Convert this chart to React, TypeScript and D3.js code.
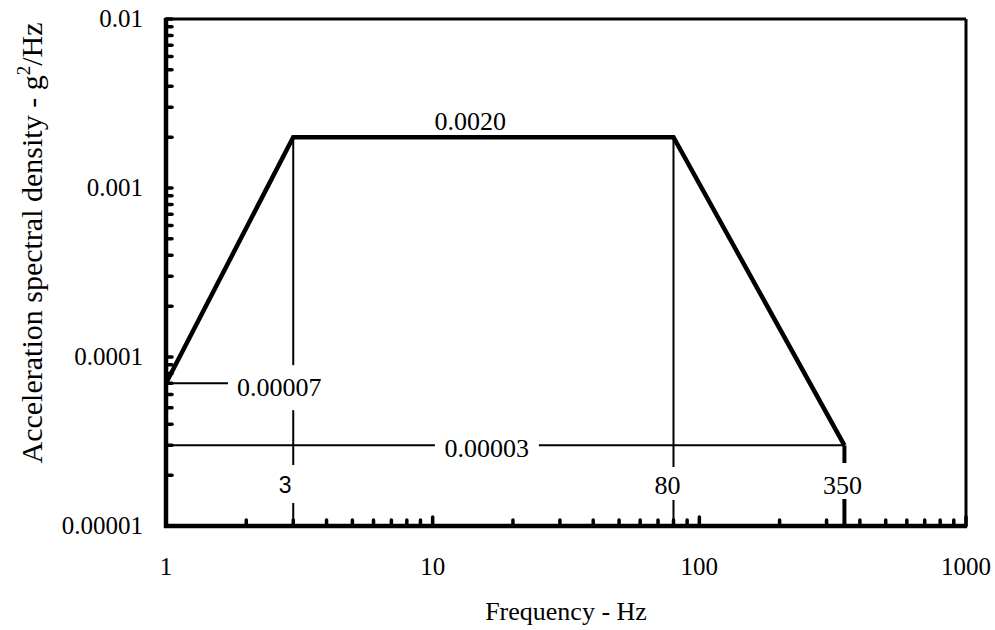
import React from "react";
import * as d3 from "d3";

const profileFreq = [1, 3, 80, 350];
const profileAsd = [0.00007, 0.002, 0.002, 0.00003];
const xTickValues = [1, 10, 100, 1000];
const xTickLabels = ["1", "10", "100", "1000"];
const yTickValues = [0.00001, 0.0001, 0.001, 0.01];
const yTickLabels = ["0.00001", "0.0001", "0.001", "0.01"];
const breakFreqs = [3, 80, 350];
const breakLabels = ["3", "80", "350"];
const levelLabels = ["0.0020", "0.00007", "0.00003"];

const W = 995;
const H = 630;
const M = { left: 166, right: 966, top: 19, bottom: 526 };

export default function App() {
  const x = d3.scaleLog().domain([1, 1000]).range([M.left, M.right]);
  const y = d3.scaleLog().domain([0.00001, 0.01]).range([M.bottom, M.top]);
  const line = d3
    .line<number>()
    .x((_, i) => x(profileFreq[i]))
    .y((d) => y(d));

  const minorX: number[] = [];
  for (let e = 0; e < 3; e++) for (let k = 2; k <= 9; k++) minorX.push(k * Math.pow(10, e));
  const minorY: number[] = [];
  for (let e = -5; e < -2; e++) for (let k = 2; k <= 9; k++) minorY.push(k * Math.pow(10, e));

  const serif = "'Liberation Serif', 'Times New Roman', serif";
  const sans = "'Liberation Sans', Arial, sans-serif";

  const x3 = x(breakFreqs[0]);
  const x80 = x(breakFreqs[1]);
  const x350 = x(breakFreqs[2]);
  const yTop = y(profileAsd[1]);
  const y7 = y(profileAsd[0]);
  const y3 = y(profileAsd[3]);
  const x1 = x(profileFreq[0]);
  const c3 = (x3 + x80) / 2 + 3.5;

  return (
    <svg
      width={W}
      height={H}
      style={{ position: "absolute", left: 0, top: 0, background: "#fff" }}
      fontFamily={serif}
    >
      <rect x={0} y={0} width={W} height={H} fill="#fff" />
      {/* reference lines */}
      <g stroke="#000" fill="none">
        <line x1={x3} x2={x3} y1={yTop} y2={M.bottom} strokeWidth={2} />
        <line x1={x80} x2={x80} y1={yTop} y2={M.bottom} strokeWidth={2} />
        <line x1={x350} x2={x350} y1={y3} y2={M.bottom} strokeWidth={4} />
        <line x1={x1} x2={x350} y1={y3} y2={y3} strokeWidth={2} />
        <line x1={x1} x2={x1 + 70} y1={y7} y2={y7} strokeWidth={2} />
      </g>
      {/* label backgrounds */}
      <g fill="#fff">
        <rect x={x1 + 62} y={y7 - 18} width={104} height={45} />
        <rect x={c3 - 52} y={y3 - 15} width={104} height={30} />
        <rect x={x3 - 18} y={M.bottom - 61} width={36} height={38} />
        <rect x={x80 - 24} y={M.bottom - 59} width={40} height={33} />
        <rect x={x350 - 24} y={M.bottom - 63} width={48} height={36} />
      </g>
      {/* profile */}
      <path d={line(profileAsd) || ""} fill="none" stroke="#000" strokeWidth={4.5} strokeLinejoin="miter" />
      {/* annotations */}
      <g fill="#000" fontSize={26}>
        <text x={(x3 + x80) / 2 - 13} y={yTop - 7} textAnchor="middle">{levelLabels[0]}</text>
        <text x={x1 + 71} y={y7 + 13}>{levelLabels[1]}</text>
        <text x={c3} y={y3 + 11.5} textAnchor="middle">{levelLabels[2]}</text>
        <text x={x3 - 8} y={M.bottom - 33} textAnchor="middle" fontFamily={sans} fontSize={23}>{breakLabels[0]}</text>
        <text x={x80 - 6} y={M.bottom - 32} textAnchor="middle">{breakLabels[1]}</text>
        <text x={x350 - 2} y={M.bottom - 32} textAnchor="middle">{breakLabels[2]}</text>
      </g>
      {/* frame */}
      <g stroke="#000" fill="none">
        <line x1={M.left} x2={M.right} y1={M.top} y2={M.top} strokeWidth={3} />
        <line x1={M.right} x2={M.right} y1={M.top} y2={M.bottom} strokeWidth={3} />
      </g>
      {/* minor ticks */}
      <g stroke="#000" strokeWidth={3.5} strokeLinecap="round">
        {minorY.map((v, i) => (
          <line key={"my" + i} x1={M.left} x2={M.left + 6} y1={y(v)} y2={y(v)} />
        ))}
        {yTickValues.map((v, i) => (
          <line key={"My" + i} x1={M.left} x2={M.left + 6} y1={y(v)} y2={y(v)} />
        ))}
        {minorX.map((v, i) => (
          <line key={"mx" + i} x1={x(v)} x2={x(v)} y1={M.bottom} y2={M.bottom - 6} />
        ))}
        {xTickValues.slice(1).map((v, i) => (
          <line key={"Mx" + i} x1={x(v)} x2={x(v)} y1={M.bottom} y2={M.bottom - 9} />
        ))}
      </g>
      <g stroke="#000" fill="none" strokeWidth={4.5}>
        <line x1={M.left} x2={M.left} y1={M.top - 1} y2={M.bottom + 2} />
        <line x1={M.left - 2} x2={M.right + 1} y1={M.bottom} y2={M.bottom} />
      </g>
      {/* tick labels */}
      <g fill="#000" fontSize={25}>
        {xTickValues.map((v, i) => (
          <text key={"xl" + i} x={x(v)} y={M.bottom + 49} textAnchor="middle">{xTickLabels[i]}</text>
        ))}
        {yTickValues.map((v, i) => (
          <text key={"yl" + i} x={143} y={y(v) + 8} textAnchor="end">{yTickLabels[i]}</text>
        ))}
      </g>
      {/* axis titles */}
      <text x={(M.left + M.right) / 2} y={620} textAnchor="middle" fontSize={26} fill="#000">
        Frequency - Hz
      </text>
      <text
        transform={`translate(42, 243) rotate(-90)`}
        textAnchor="middle"
        fontSize={30}
        fill="#000"
      >
        Acceleration spectral density - g<tspan dy={-12} fontSize={19}>2</tspan>
        <tspan dy={12}>/Hz</tspan>
      </text>
    </svg>
  );
}
